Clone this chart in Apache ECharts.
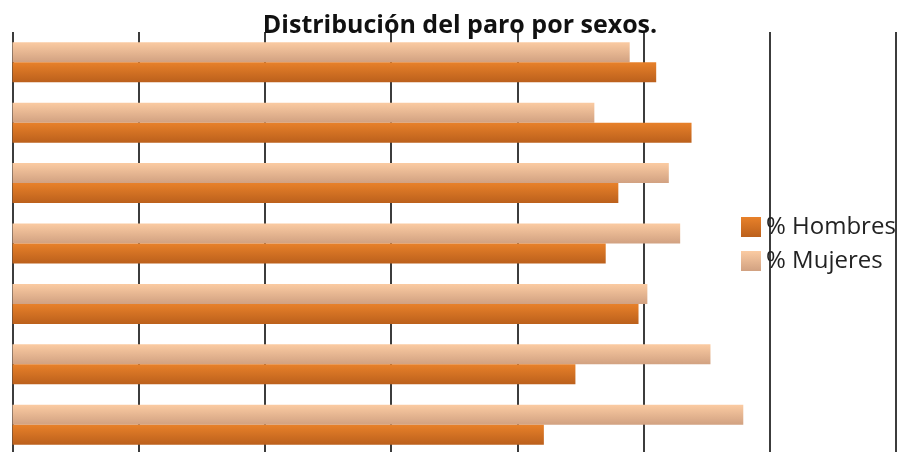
<!DOCTYPE html>
<html>
<head>
<meta charset="utf-8">
<script src="https://cdn.jsdelivr.net/npm/echarts@6/dist/echarts.min.js"></script>
<style>html,body{margin:0;padding:0;background:#fff;}#c{width:897px;height:452px;}</style>
</head>
<body>
<div id="c"></div>
<script>
// categories listed from top to bottom as seen in the chart
const categories = ['Grupo 1', 'Grupo 2', 'Grupo 3', 'Grupo 4', 'Grupo 5', 'Grupo 6', 'Grupo 7'];
const hombres = [51.0, 53.8, 48.0, 47.0, 49.6, 44.6, 42.1];
const mujeres = [48.9, 46.1, 52.0, 52.9, 50.3, 55.3, 57.9];
const axisTicks = [0, 10, 20, 30, 40, 50, 60, 70];
const titleText = 'Distribución del paro por sexos.';
const seriesNames = ['% Hombres', '% Mujeres'];

const chart = echarts.init(document.getElementById('c'));
const grad = (a, b) => new echarts.graphic.LinearGradient(0, 0, 0, 1, [{offset: 0, color: a}, {offset: 1, color: b}]);
chart.setOption({
  animation: false,
  backgroundColor: '#ffffff',
  title: {
    text: titleText, left: 455, textAlign: 'center', top: 8,
    textStyle: {fontFamily: 'Open Sans', fontWeight: 'bold', fontSize: 25, color: '#111'}
  },
  legend: {
    orient: 'vertical', left: 741, top: 215, padding: 0, itemWidth: 20, itemHeight: 20, itemGap: 10,
    icon: 'rect',
    textStyle: {fontFamily: 'Open Sans', fontSize: 24, color: '#222'},
    data: seriesNames
  },
  grid: {left: 12.5, right: 1, top: 32, height: 423, containLabel: false, outerBoundsMode: 'none'},
  xAxis: {
    type: 'value', min: axisTicks[0], max: axisTicks[axisTicks.length - 1], interval: axisTicks[1] - axisTicks[0],
    axisLabel: {show: false}, axisTick: {show: false}, axisLine: {show: false},
    splitLine: {show: true, lineStyle: {color: '#3c3c3c', width: 2}}
  },
  yAxis: {
    type: 'category', data: categories, inverse: true,
    axisLabel: {show: false}, axisTick: {show: false},
    axisLine: {show: false}, splitLine: {show: false}
  },
  series: [
    {name: seriesNames[1], type: 'bar', data: mujeres, barWidth: 20, barGap: '0%',
     itemStyle: {color: grad('#fbcba2', '#d1a181')}},
    {name: seriesNames[0], type: 'bar', data: hombres, barWidth: 20, barGap: '0%',
     itemStyle: {color: grad('#e8812a', '#bb601c')}}
  ]
});
</script>
</body>
</html>
